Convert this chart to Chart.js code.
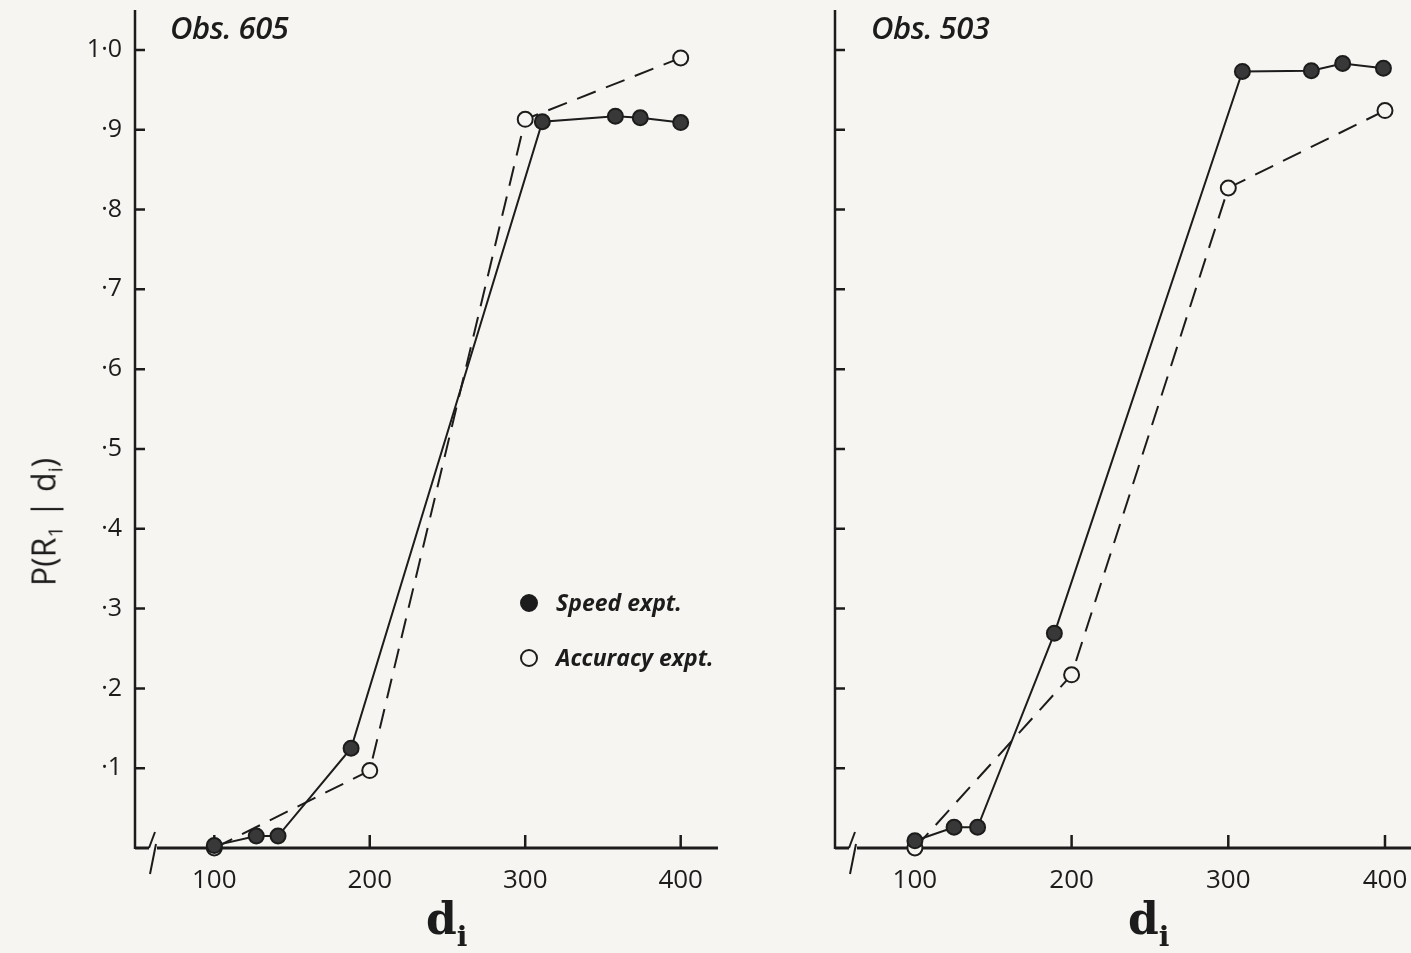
<!DOCTYPE html>
<html>
<head>
<meta charset="utf-8">
<script src="https://cdn.jsdelivr.net/npm/chart.js@4.4.1/dist/chart.umd.min.js"></script>
<style>
  body { margin: 0; background: #f6f5f1; width: 1411px; height: 953px; overflow: hidden; position: relative; }
  canvas { position: absolute; top: 0; }
  .obs { position: absolute; top: 6px; font: italic 600 31px "Open Sans", sans-serif; color: #1c1c1c; letter-spacing: -0.5px; }
  .dlab { position: absolute; top: 893px; font: bold 44px "DejaVu Serif", serif; color: #1c1c1c; }
  .dlab sub { font-size: 28px; vertical-align: -12px; }
  .ylab { position: absolute; left: 45px; top: 522px; transform: translate(-50%, -50%) rotate(-90deg);
          font: 32px "Open Sans", sans-serif; color: #1c1c1c; white-space: nowrap; }
  .ylab sub { font-size: 20px; vertical-align: -7px; }
  .leg { position: absolute; left: 520px; font: italic bold 23px "Open Sans", sans-serif; color: #1c1c1c; }
  .leg span { display: inline-block; width: 14px; height: 14px; border-radius: 50%; margin-right: 18px; vertical-align: -1px; border: 2px solid #1c1c1c; }
</style>
</head>
<body>
<canvas id="left" width="720" height="953" style="left:0"></canvas>
<canvas id="right" width="711" height="953" style="left:700px"></canvas>

<div class="obs" style="left:170px">Obs. 605</div>
<div class="obs" style="left:871px">Obs. 503</div>
<div class="dlab" style="left:426px">d<sub>i</sub></div>
<div class="dlab" style="left:1128px">d<sub>i</sub></div>
<div class="ylab">P(R<sub>1</sub> | d<sub>i</sub>)</div>
<div class="leg" style="top:586px"><span style="background:#1c1c1c"></span>Speed expt.</div>
<div class="leg" style="top:641px"><span style="background:#f6f5f1"></span>Accuracy expt.</div>

<script>
// stimulus values d_i and proportions
const xTicks = [100, 200, 300, 400];
const yTicks = [0.1, 0.2, 0.3, 0.4, 0.5, 0.6, 0.7, 0.8, 0.9, 1.0];
const yTickLabels = ['·1', '·2', '·3', '·4', '·5', '·6', '·7', '·8', '·9', '1·0'];

// Obs. 605
const speed605X = [100, 127, 141, 188, 311, 358, 374, 400];
const speed605Y = [0.003, 0.015, 0.015, 0.125, 0.910, 0.917, 0.915, 0.909];
const acc605X = [100, 200, 300, 400];
const acc605Y = [0.0, 0.097, 0.913, 0.99];

// Obs. 503
const speed503X = [100, 125, 140, 189, 309, 353, 373, 399];
const speed503Y = [0.009, 0.026, 0.026, 0.269, 0.973, 0.974, 0.983, 0.977];
const acc503X = [100, 200, 300, 400];
const acc503Y = [0.0, 0.217, 0.827, 0.924];

const ink = '#1c1c1c';
const paper = '#f6f5f1';

function pts(xs, ys) {
  return xs.map((x, i) => ({ x: x, y: ys[i] }));
}

// axes drawn by hand: inner ticks, labels and the break on the x axis
const axesPlugin = {
  id: 'axes',
  beforeDatasetsDraw(chart, args, opts) {
    const ctx = chart.ctx;
    const a = chart.chartArea;
    const xs = chart.scales.x, ys = chart.scales.y;
    ctx.save();
    ctx.strokeStyle = ink;
    ctx.fillStyle = ink;
    ctx.lineCap = 'butt';
    // y axis
    ctx.lineWidth = 2.5;
    ctx.beginPath();
    ctx.moveTo(a.left, a.top);
    ctx.lineTo(a.left, a.bottom + 1);
    ctx.stroke();
    // x axis with break
    ctx.lineWidth = 3;
    ctx.beginPath();
    ctx.moveTo(a.left, a.bottom);
    ctx.lineTo(a.left + 14, a.bottom);
    ctx.moveTo(a.left + 22, a.bottom);
    ctx.lineTo(a.right, a.bottom);
    ctx.stroke();
    ctx.lineWidth = 2;
    ctx.beginPath();
    ctx.moveTo(a.left + 14, a.bottom);
    ctx.lineTo(a.left + 20, a.bottom - 16);
    ctx.moveTo(a.left + 21, a.bottom - 4);
    ctx.lineTo(a.left + 15, a.bottom + 26);
    ctx.stroke();
    // ticks
    ctx.lineWidth = 2.5;
    ctx.beginPath();
    yTicks.forEach(v => {
      const p = ys.getPixelForValue(v);
      ctx.moveTo(a.left, p);
      ctx.lineTo(a.left + 10, p);
    });
    xTicks.forEach(v => {
      const p = xs.getPixelForValue(v);
      ctx.moveTo(p, a.bottom);
      ctx.lineTo(p, a.bottom - 13);
    });
    ctx.stroke();
    // tick labels
    ctx.font = '26px "Open Sans"';
    ctx.textAlign = 'center';
    ctx.textBaseline = 'middle';
    xTicks.forEach(v => ctx.fillText(String(v), xs.getPixelForValue(v), a.bottom + 33));
    if (opts.yLabels) {
      ctx.font = '25px "Open Sans"';
      ctx.textAlign = 'right';
      yTicks.forEach((v, i) => ctx.fillText(yTickLabels[i], a.left - 13, ys.getPixelForValue(v)));
    }
    ctx.restore();
  }
};

function makeChart(id, sx, sy, ax, ay, xMax, showYLabels, padRight) {
  return new Chart(document.getElementById(id), {
    type: 'line',
    data: {
      datasets: [{
        label: 'Speed expt.',
        data: pts(sx, sy),
        borderColor: ink,
        borderWidth: 2,
        pointRadius: 7.5,
        pointBackgroundColor: '#383838',
        pointBorderColor: ink,
        pointBorderWidth: 2
      }, {
        label: 'Accuracy expt.',
        data: pts(ax, ay),
        borderColor: ink,
        borderWidth: 2,
        borderDash: [20, 11],
        pointRadius: 7.5,
        pointBackgroundColor: paper,
        pointBorderColor: ink,
        pointBorderWidth: 2
      }]
    },
    options: {
      responsive: false,
      animation: false,
      layout: { autoPadding: false, padding: { top: 10, right: padRight, left: 135, bottom: 105 } },
      plugins: { legend: { display: false }, tooltip: { enabled: false }, axes: { yLabels: showYLabels } },
      elements: { line: { tension: 0 } },
      datasets: { line: { clip: false } },
      scales: {
        x: { type: 'linear', min: 49, max: xMax, display: false },
        y: { type: 'linear', min: 0, max: 1.05, display: false }
      }
    },
    plugins: [axesPlugin]
  });
}

makeChart('left', speed605X, speed605Y, acc605X, acc605Y, 424, true, 2);
makeChart('right', speed503X, speed503Y, acc503X, acc503Y, 416.6, false, 0);
</script>
</body>
</html>
